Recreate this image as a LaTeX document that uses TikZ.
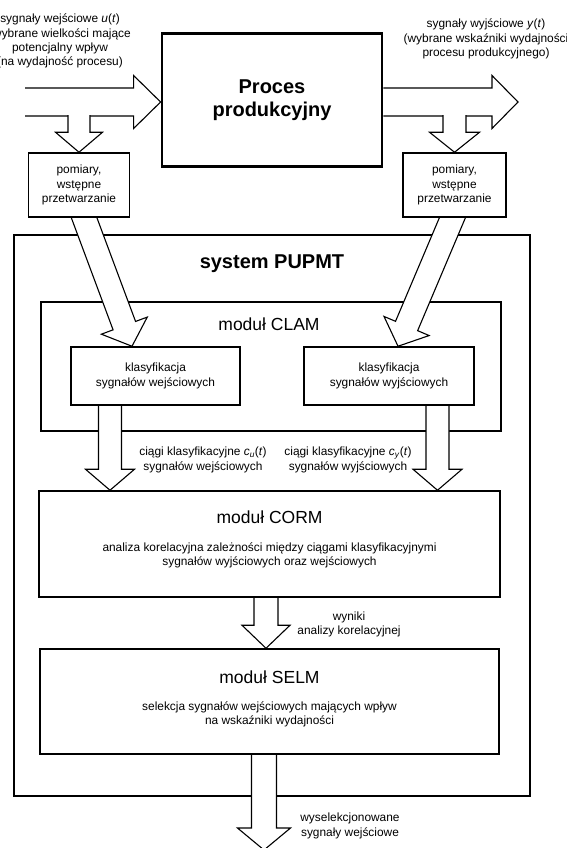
\documentclass[tikz,border=0pt]{standalone}
\usepackage{fontspec}
\setmainfont{Liberation Sans}
\usetikzlibrary{positioning,calc}

\pgfdeclarelayer{background}
\pgfdeclarelayer{arrows}
\pgfsetlayers{background,arrows,main}

\newcommand{\smalltxt}{\fontsize{11.9}{14.2}\selectfont}
\newcommand{\modtxt}{\fontsize{17.5}{21}\selectfont}
\newcommand{\bigtxt}{\fontsize{20}{23.5}\selectfont\bfseries}

% block arrow: [style]{from}{to}{half shaft}{half head}{head length}
\newcommand{\fatarrow}[6][]{%
  \coordinate (fahead) at ($(#3)!#6!(#2)$);
  \fill[white] ($(#2)!#4!-90:(#3)$) -- ($(fahead)!#4!90:(#2)$) -- ($(fahead)!#5!90:(#2)$) -- (#3)
    -- ($(fahead)!#5!-90:(#2)$) -- ($(fahead)!#4!-90:(#2)$) -- ($(#2)!#4!90:(#3)$) -- cycle;
  \draw[fatline,#1] ($(#2)!#4!-90:(#3)$) -- ($(fahead)!#4!90:(#2)$) -- ($(fahead)!#5!90:(#2)$) -- (#3)
    -- ($(fahead)!#5!-90:(#2)$) -- ($(fahead)!#4!-90:(#2)$) -- ($(#2)!#4!90:(#3)$);
}

\begin{document}
\begin{tikzpicture}[x=1pt, y=-1pt,
    box/.style={rectangle, draw=black, line width=1.5pt, fill=white, align=center, inner sep=0pt, font=\smalltxt},
    heavybox/.style={box, line width=2.8pt},
    note/.style={align=center, font=\smalltxt, inner sep=0pt},
    modtitle/.style={font=\modtxt, inner sep=0pt},
    fatline/.style={draw=black, line width=1.1pt, line join=miter}
]
    \useasboundingbox (0,0) rectangle (567,848);

    % process and measurements
    \node[heavybox, minimum width=220pt, minimum height=133pt, font=\bigtxt] (proc) at (272,100) {Proces\\produkcyjny};

    \node[note] (uIn) at (60,41) {
        sygnały wejściowe \textit{u}(\textit{t})\\
        (wybrane wielkości mające\\
        potencjalny wpływ\\
        (na wydajność procesu)
    };
    \node[note] (yOut) at (486,39) {
        sygnały wyjściowe \textit{y}(\textit{t})\\
        (wybrane wskaźniki wydajności\\
        procesu produkcyjnego)
    };

    \node[box, minimum width=101pt, minimum height=64pt] (pomL) at (79,185) {pomiary,\\wstępne\\przetwarzanie};
    \node[box, minimum width=103pt, minimum height=64pt] (pomR) at (454.5,185) {pomiary,\\wstępne\\przetwarzanie};

    % system PUPMT
    \begin{pgfonlayer}{background}
        \node[heavybox, minimum width=516pt, minimum height=561pt] (sys) at (272,515.5) {};
        \node[box, line width=1.1pt, minimum width=460pt, minimum height=129pt] (clam) at (271,366.5) {};
    \end{pgfonlayer}
    \node[font=\bigtxt] (sysT) at (272,264) {system PUPMT};
    \node[modtitle] (clamT) at (269,324) {moduł CLAM};

    \node[box, minimum width=169pt, minimum height=58pt] (klasL) at (155.5,376) {klasyfikacja\\sygnałów wejściowych};
    \node[box, minimum width=170pt, minimum height=58pt] (klasR) at (389,376) {klasyfikacja\\sygnałów wyjściowych};

    \node[box, minimum width=461pt, minimum height=106pt] (corm) at (269.5,544) {};
    \node[modtitle] (cormT) at (269.5,517) {moduł CORM};
    \node[note] (cormB) at (269.5,555) {analiza korelacyjna zależności między ciągami klasyfikacyjnymi\\sygnałów wyjściowych oraz wejściowych};

    \node[box, minimum width=459pt, minimum height=105pt] (selm) at (269.5,701.5) {};
    \node[modtitle] (selmT) at (269.5,677) {moduł SELM};
    \node[note] (selmB) at (269.5,714.5) {selekcja sygnałów wejściowych mających wpływ\\na wskaźniki wydajności};

    \node[note] (cuLab) at (203,460) {ciągi klasyfikacyjne \textit{c}\textsubscript{\textit{u}}(\textit{t})\\sygnałów wejściowych};
    \node[note] (cyLab) at (348,460) {ciągi klasyfikacyjne \textit{c}\textsubscript{\textit{y}}(\textit{t})\\sygnałów wyjściowych};
    \node[note] (wynLab) at (349,624.5) {wyniki\\analizy korelacyjnej};
    \node[note] (selLab) at (350,826) {wyselekcjonowane\\sygnały wejściowe};

    % block arrows
    \begin{pgfonlayer}{arrows}
        \coordinate (inStart) at (25,102);
        \coordinate (outEnd) at (518,102);
        \fatarrow{inStart}{proc.west |- inStart}{14pt}{26.5pt}{27pt}
        \fatarrow{proc.east |- outEnd}{outEnd}{14pt}{26.5pt}{26pt}

        \coordinate (inTap) at ($(pomL.north)+(0,-37)$);
        \coordinate (outTap) at ($(pomR.north)+(0,-37)$);
        \fatarrow{inTap}{pomL.north}{11pt}{23.5pt}{20pt}
        \fatarrow{outTap}{pomR.north}{11.5pt}{25pt}{20pt}

        \coordinate (slL) at ($(pomL.south)+(2.7,-6.5)$);
        \coordinate (slLtip) at ($(klasL.north)+(-23.5,0)$);
        \coordinate (slR) at ($(pomR.south)+(0.6,-6.4)$);
        \coordinate (slRtip) at ($(klasR.north)+(9,0)$);
        \fatarrow{slL}{slLtip}{12pt}{24.5pt}{22pt}
        \fatarrow{slR}{slRtip}{12pt}{24.5pt}{22pt}

        \coordinate (cuTop) at ($(klasL.south)+(-45.5,0)$);
        \coordinate (cuTip) at (cuTop |- corm.north);
        \coordinate (cyTop) at ($(klasR.south)+(48.5,0)$);
        \coordinate (cyTip) at (cyTop |- corm.north);
        \fatarrow{cuTop}{cuTip}{11.5pt}{24.5pt}{21pt}
        \fatarrow{cyTop}{cyTip}{11.5pt}{24.5pt}{21pt}

        \coordinate (wynTop) at ($(corm.south)+(-3.5,0)$);
        \coordinate (wynTip) at (wynTop |- selm.north);
        \fatarrow{wynTop}{wynTip}{12pt}{24pt}{23pt}

        \coordinate (selTop) at ($(selm.south)+(-5.5,0)$);
        \coordinate (selEnd) at (264,850);
        \fatarrow{selTop}{selEnd}{12.5pt}{26.5pt}{22pt}
    \end{pgfonlayer}
\end{tikzpicture}
\end{document}
